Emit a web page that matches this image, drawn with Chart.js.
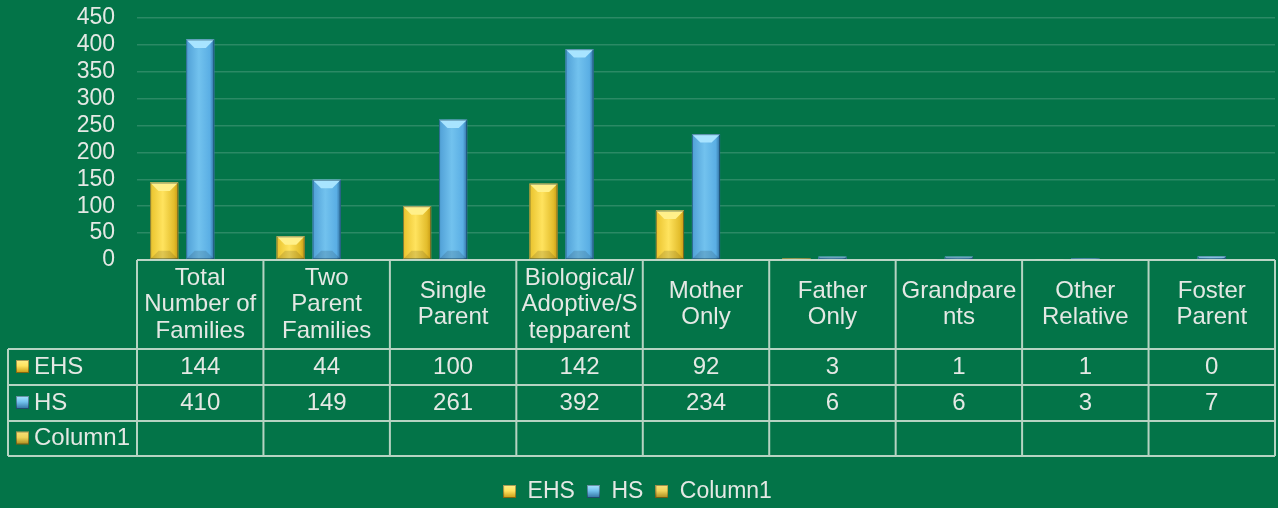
<!DOCTYPE html>
<html>
<head>
<meta charset="utf-8">
<script src="https://cdn.jsdelivr.net/npm/chart.js@4"></script>
<style>
  html, body { margin: 0; padding: 0; background: #037448; }
  #wrap { width: 1278px; height: 508px; }
</style>
</head>
<body>
<div id="wrap"><canvas id="myChart"></canvas></div>
<script>
// Datos del gráfico
var categorias = ["Total Number of Families", "Two Parent Families", "Single Parent",
  "Biological/Adoptive/Stepparent", "Mother Only", "Father Only", "Grandparents",
  "Other Relative", "Foster Parent"];
// Etiquetas tal como aparecen partidas en la tabla
var etiquetasTabla = [["Total", "Number of", "Families"], ["Two", "Parent", "Families"],
  ["Single", "Parent"], ["Biological/", "Adoptive/S", "tepparent"], ["Mother", "Only"],
  ["Father", "Only"], ["Grandpare", "nts"], ["Other", "Relative"], ["Foster", "Parent"]];
var series = ["EHS", "HS", "Column1"];
var valoresEHS = [144, 44, 100, 142, 92, 3, 1, 1, 0];
var valoresHS = [410, 149, 261, 392, 234, 6, 6, 3, 7];
var valoresColumn1 = [null, null, null, null, null, null, null, null, null];
var ticksY = [0, 50, 100, 150, 200, 250, 300, 350, 400, 450];

var colorTexto = "#e4e8e4";
var colorLinea = "rgba(214, 228, 216, 0.85)";
var fuente = "'Liberation Sans', Arial, sans-serif";

// Degradados de cada serie: borde izquierdo, centro, borde derecho, bisel
var estilos = [
  { izq: "#e9c22c", centro: "#ffe35e", der: "#c79a12", bisel: "#fff08a", base: "#e3bd2c" },
  { izq: "#4f9fd6", centro: "#72c2ee", der: "#2f6f9f", bisel: "#a8e4ff", base: "#5aaee4" },
  { izq: "#d6b03a", centro: "#f0d45a", der: "#a88a1c", bisel: "#f8e07a", base: "#d4b23a" }
];

function cuadroIcono(ctx, x, y, tam, est) {
  var g = ctx.createLinearGradient(x, y, x, y + tam);
  g.addColorStop(0, est.bisel);
  g.addColorStop(0.45, est.centro);
  g.addColorStop(1, est.der);
  ctx.fillStyle = g;
  ctx.fillRect(x, y, tam, tam);
  ctx.strokeStyle = "rgba(0,0,0,0.35)";
  ctx.lineWidth = 1;
  ctx.strokeRect(x + 0.5, y + 0.5, tam - 1, tam - 1);
}

// Iconos de la leyenda como pequeños canvas
function iconoLeyenda(est) {
  var c = document.createElement("canvas");
  c.width = 13;
  c.height = 13;
  cuadroIcono(c.getContext("2d"), 0, 0, 13, est);
  return c;
}

// Plugin para pintar las barras con aspecto de bisel
var pluginBarras = {
  id: "barrasBisel",
  afterDatasetsDraw: function (chart) {
    var ctx = chart.ctx;
    chart.data.datasets.forEach(function (ds, i) {
      var meta = chart.getDatasetMeta(i);
      var est = estilos[i];
      meta.data.forEach(function (el) {
        if (el.y == null || isNaN(el.y)) return;
        var izq = el.x - el.width / 2, der = el.x + el.width / 2;
        var arriba = Math.min(el.y, el.base), abajo = Math.max(el.y, el.base);
        var alto = abajo - arriba;
        if (alto < 0.5) return;
        var g = ctx.createLinearGradient(izq, 0, der, 0);
        g.addColorStop(0, est.izq);
        g.addColorStop(0.45, est.centro);
        g.addColorStop(0.85, est.base);
        g.addColorStop(1, est.der);
        ctx.save();
        ctx.fillStyle = g;
        ctx.fillRect(izq, arriba, el.width, alto);
        // bisel superior
        var b = Math.min(el.width * 0.3, alto / 2);
        ctx.fillStyle = est.bisel;
        ctx.beginPath();
        ctx.moveTo(izq, arriba);
        ctx.lineTo(der, arriba);
        ctx.lineTo(der - b, arriba + b);
        ctx.lineTo(izq + b, arriba + b);
        ctx.closePath();
        ctx.fill();
        // sombra inferior
        ctx.fillStyle = "rgba(0,0,0,0.12)";
        ctx.beginPath();
        ctx.moveTo(izq, abajo);
        ctx.lineTo(der, abajo);
        ctx.lineTo(der - b, abajo - b);
        ctx.lineTo(izq + b, abajo - b);
        ctx.closePath();
        ctx.fill();
        ctx.strokeStyle = "rgba(0,40,60,0.45)";
        ctx.lineWidth = 1;
        ctx.strokeRect(izq + 0.5, arriba + 0.5, el.width - 1, alto - 1);
        ctx.restore();
      });
    });
  }
};

// Plugin para la tabla de datos bajo el eje X
var pluginTabla = {
  id: "tablaDatos",
  afterDraw: function (chart) {
    var ctx = chart.ctx;
    var area = chart.chartArea;
    var escalaX = chart.scales.x;
    var ancho = (area.right - area.left) / categorias.length;
    var izqTabla = 8;
    var filas = [area.bottom, area.bottom + 89, area.bottom + 125, area.bottom + 161, area.bottom + 196];
    var valores = [valoresEHS, valoresHS, valoresColumn1];

    ctx.save();
    ctx.strokeStyle = colorLinea;
    ctx.lineWidth = 2;
    ctx.beginPath();
    ctx.moveTo(area.left, filas[0]);
    ctx.lineTo(area.right, filas[0]);
    for (var f = 1; f < filas.length; f++) {
      ctx.moveTo(izqTabla, filas[f]);
      ctx.lineTo(area.right, filas[f]);
    }
    for (var c = 0; c <= categorias.length; c++) {
      var xl = area.left + c * ancho;
      ctx.moveTo(xl, filas[0]);
      ctx.lineTo(xl, filas[4]);
    }
    ctx.moveTo(izqTabla, filas[1]);
    ctx.lineTo(izqTabla, filas[4]);
    ctx.stroke();

    ctx.fillStyle = colorTexto;
    ctx.font = "24px " + fuente;
    ctx.textAlign = "center";
    ctx.textBaseline = "middle";
    var centroCab = (filas[0] + filas[1]) / 2;
    etiquetasTabla.forEach(function (lineas, i) {
      var cx = escalaX.getPixelForValue(i);
      var y0 = centroCab - (lineas.length - 1) * 26.5 / 2;
      lineas.forEach(function (t, k) {
        ctx.fillText(t, cx, y0 + k * 26.5);
      });
    });
    valores.forEach(function (serie, s) {
      var cy = (filas[s + 1] + filas[s + 2]) / 2;
      serie.forEach(function (v, i) {
        if (v === null) return;
        ctx.fillText(String(v), escalaX.getPixelForValue(i), cy);
      });
      ctx.textAlign = "left";
      cuadroIcono(ctx, 16, cy - 7, 13, estilos[s]);
      ctx.fillStyle = colorTexto;
      ctx.fillText(series[s], 34, cy);
      ctx.textAlign = "center";
    });
    ctx.restore();
  }
};

function crearGrafico() {
  var ctx = document.getElementById("myChart").getContext("2d");
  var iconos = estilos.map(iconoLeyenda);
  new Chart(ctx, {
    type: "bar",
    data: {
      labels: categorias,
      datasets: [
        { label: series[0], data: valoresEHS, backgroundColor: estilos[0].centro, borderWidth: 0 },
        { label: series[1], data: valoresHS, backgroundColor: estilos[1].centro, borderWidth: 0 },
        { label: series[2], data: valoresColumn1, backgroundColor: estilos[2].centro, borderWidth: 0 }
      ]
    },
    options: {
      responsive: true,
      maintainAspectRatio: false,
      animation: false,
      categoryPercentage: 0.855,
      barPercentage: 0.78,
      layout: { padding: { top: 0, right: 3, left: 0, bottom: -5 } },
      plugins: {
        tooltip: { enabled: false },
        legend: {
          position: "bottom",
          labels: {
            color: colorTexto,
            font: { size: 23, family: fuente },
            usePointStyle: true,
            boxWidth: 13,
            padding: 12,
            generateLabels: function (chart) {
              var items = Chart.defaults.plugins.legend.labels.generateLabels(chart);
              items.forEach(function (it) { it.pointStyle = iconos[it.datasetIndex]; });
              return items;
            }
          }
        }
      },
      scales: {
        x: {
          grid: { display: false },
          border: { display: false },
          ticks: { display: false },
          afterFit: function (escala) { escala.height = 208; }
        },
        y: {
          min: 0,
          max: ticksY[ticksY.length - 1],
          afterBuildTicks: function (escala) {
            escala.ticks = ticksY.map(function (v) { return { value: v }; });
          },
          afterFit: function (escala) {
            escala.width = 137;
            escala.paddingTop = 18;
            escala.paddingBottom = 0;
          },
          grid: { color: "rgba(255,255,255,0.16)", lineWidth: 1.5, drawTicks: false },
          border: { display: false },
          ticks: {
            color: colorTexto,
            font: { size: 23, family: fuente },
            padding: 22,
            autoSkip: false
          }
        }
      }
    },
    plugins: [pluginBarras, pluginTabla]
  });
}

crearGrafico();
</script>
</body>
</html>
